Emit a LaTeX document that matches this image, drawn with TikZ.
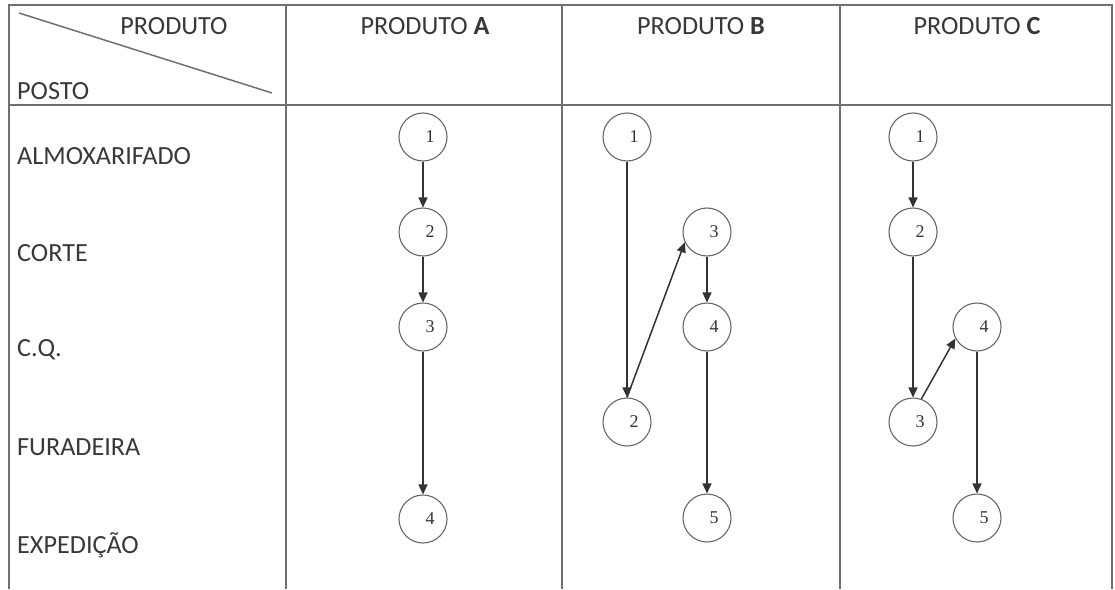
\documentclass[tikz,border=0pt]{standalone}
\usepackage{fontspec}
\setmainfont{Carlito}
\newfontfamily\numfont{Liberation Serif}
\usetikzlibrary{arrows.meta}
\definecolor{txt}{HTML}{383838}
\definecolor{grid}{HTML}{707070}
\definecolor{circ}{HTML}{666666}
\definecolor{arr}{HTML}{333333}
\begin{document}
\begin{tikzpicture}[x=1pt,y=-1pt,
  lbl/.style={font=\fontsize{26.2}{29}\selectfont, text=txt, inner sep=0pt},
  rowlbl/.style={lbl, anchor=west},
  stn/.style={circle, draw=circ, line width=1.1pt, minimum size=48pt, inner sep=0pt},
  num/.style={font=\numfont\fontsize{18}{20}\selectfont, text=black!80, inner sep=0pt},
  flow/.style={draw=arr, line width=1.5pt, -{Triangle[length=10pt,width=9pt]}},
  gridline/.style={draw=grid, line width=2pt}]
\useasboundingbox (0,0) rectangle (1115,589);
% table
\draw[gridline] (9,589) -- (9,5) -- (1112,5) -- (1112,589);
\draw[gridline] (9,105) -- (1112,105);
\draw[gridline] (286,5) -- (286,589);
\draw[gridline] (562,5) -- (562,589);
\draw[gridline] (840,5) -- (840,589);
\draw[draw=grid, line width=1.5pt] (19,13) -- (272,93);
% headers
\node[lbl] (hprod) at (174,26) {PRODUTO};
\node[lbl, anchor=west] (hposto) at (17,91) {POSTO};
\node[lbl] (ha) at (425,26) {PRODUTO \textbf{A}};
\node[lbl] (hb) at (701,26) {PRODUTO \textbf{B}};
\node[lbl] (hc) at (977,26) {PRODUTO \textbf{C}};
% row labels
\node[rowlbl] (r1) at (17,156) {ALMOXARIFADO};
\node[rowlbl] (r2) at (17,253) {CORTE};
\node[rowlbl] (r3) at (17,350) {C.Q.};
\node[rowlbl] (r4) at (17,447) {FURADEIRA};
\node[rowlbl] (r5) at (17,545) {EXPEDIÇÃO};
% product A
\node[stn] (a1) at (423,137) {};
\node[stn] (a2) at (423,232) {};
\node[stn] (a3) at (423,327) {};
\node[stn] (a4) at (423,519) {};
% product B
\node[stn] (b1) at (627,137) {};
\node[stn] (b3) at (707,232) {};
\node[stn] (b4) at (707,327) {};
\node[stn] (b2) at (627,422) {};
\node[stn] (b5) at (707,518) {};
% product C
\node[stn] (c1) at (913,137) {};
\node[stn] (c2) at (913,232) {};
\node[stn] (c4) at (977,327) {};
\node[stn] (c3) at (913,422) {};
\node[stn] (c5) at (977,518) {};
% numbers
\foreach \n/\t in {a1/1,a2/2,a3/3,a4/4,b1/1,b2/2,b3/3,b4/4,b5/5,c1/1,c2/2,c3/3,c4/4,c5/5}
  \node[num] at ([xshift=7pt]\n.center) {\t};
% arrows
\draw[flow] (a1) -- (a2);
\draw[flow] (a2) -- (a3);
\draw[flow] (a3) -- (a4);
\draw[flow] (b1) -- (b2);
\draw[flow] (b2.north) -- (b3.205);
\draw[flow] (b3) -- (b4);
\draw[flow] (b4) -- (b5);
\draw[flow] (c1) -- (c2);
\draw[flow] (c2) -- (c3);
\draw[flow] (c3.70) -- (c4.208);
\draw[flow] (c4) -- (c5);
\end{tikzpicture}
\end{document}
